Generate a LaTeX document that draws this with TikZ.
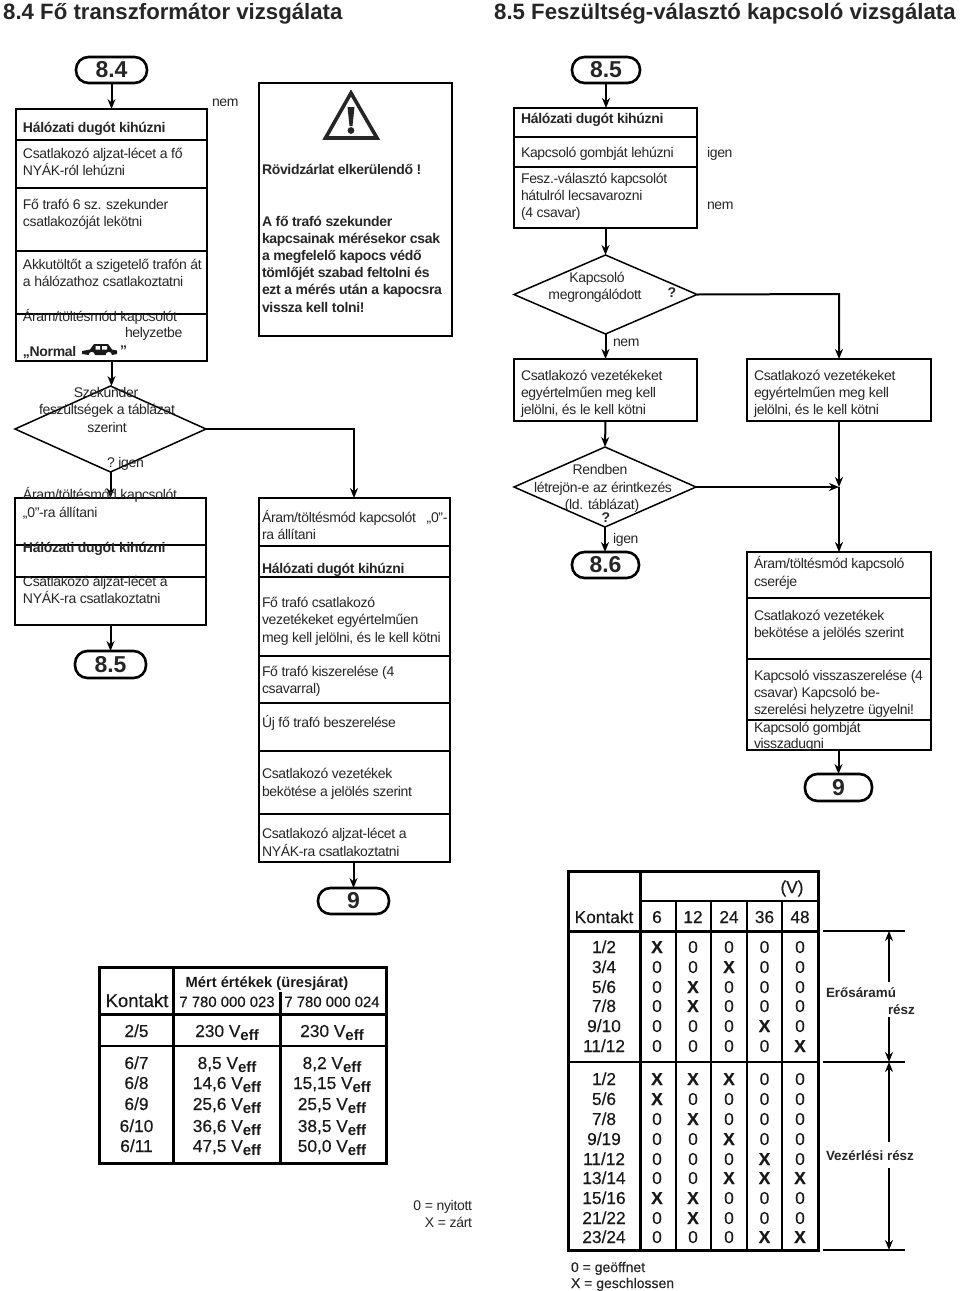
\documentclass[tikz,border=0pt]{standalone}
\usepackage{fontspec}
\setmainfont{Liberation Sans}[LetterSpace=-2.3]
\newfontfamily\plainf{Liberation Sans}
\newfontfamily\scanf{Liberation Sans}[FakeBold=0.35]
\usetikzlibrary{arrows.meta,shapes.geometric,calc}
\tikzset{
  x=1pt,y=-1pt,
  linebox/.style={draw=black,line width=1.6pt,inner sep=0pt,outer sep=0pt},
  pill/.style={draw=black,line width=2.6pt,rounded corners=12.5pt,inner sep=0pt,outer sep=0pt},
  pilltext/.style={inner sep=0pt,outer sep=0pt,text=black!85,font=\plainf\bfseries\fontsize{23}{23}\selectfont},
  diam/.style={diamond,draw=black,line width=1.5pt,inner sep=0pt,outer sep=0pt},
  arr/.style={line width=2pt,-{Stealth[length=10pt,width=8pt]}},
  lbl/.style={inner sep=0pt,outer sep=0pt,anchor=base west,text=black!85,font=\fontsize{14}{17}\selectfont},
  lblb/.style={lbl,font=\bfseries\fontsize{14}{17}\selectfont},
  lblc/.style={lbl,anchor=base},
  title/.style={inner sep=0pt,anchor=base west,font=\plainf\bfseries\fontsize{22.2}{26}\selectfont,text=black!85},
  cell/.style={inner sep=0pt,outer sep=0pt,anchor=base,text=black!90,font=\scanf\fontsize{17.3}{17}\selectfont},
  tline/.style={line width=3pt,line cap=rect},
  tthin/.style={line width=1.5pt},
}
\newcommand\bx[6][linebox]{%
  \pgfmathsetmacro\bw{#5-#3}\pgfmathsetmacro\bh{#6-#4}%
  \pgfmathsetmacro\cx{(#5+#3)/2}\pgfmathsetmacro\cy{(#6+#4)/2}%
  \node[#1,minimum width=\bw pt,minimum height=\bh pt] (#2) at (\cx,\cy) {};}
\newcommand\tx[5][lbl]{\node[#1] (#2) at (#3,#4) {#5};}
\newcommand\XX{\textbf{X}}
\newcommand\veff{V\raisebox{-0.4ex}{\plainf\bfseries\fontsize{15}{15}\selectfont eff}}
\newcommand\trow[7]{%
  \tx[cell]{k#1}{604}{#1}{#2}
  \tx[cell]{a#1}{657}{#1}{#3}
  \tx[cell]{b#1}{693}{#1}{#4}
  \tx[cell]{c#1}{729}{#1}{#5}
  \tx[cell]{d#1}{764.5}{#1}{#6}
  \tx[cell]{e#1}{800}{#1}{#7}}
\newcommand\mrow[4]{%
  \tx[cell]{mk#1}{136.5}{#1}{#2}
  \tx[cell]{ma#1}{227}{#1}{#3}
  \tx[cell]{mb#1}{332}{#1}{#4}}
\begin{document}
\begin{tikzpicture}
\useasboundingbox[fill=white] (0,0) rectangle (960,1291);
% titles
\tx[title]{t1}{3}{19}{8.4 Fő transzformátor vizsgálata}
\tx[title]{t2}{494}{19}{8.5 Feszültség-választó kapcsoló vizsgálata}

% ---- 8.4 left column
\bx[pill]{p84}{76}{57}{147}{83}
\node[pilltext] (p84t) at (p84) {8.4};
\bx{a1}{16}{109}{207}{140}
\bx{a2}{16}{140}{207}{188}
\bx{a3}{16}{188}{207}{251}
\bx{a4}{16}{251}{207}{314}
\bx{a5}{16}{314}{207}{361}
\draw[arr] (p84.south) -- (a1.north);
\tx[lblb]{a1t}{23}{132}{Hálózati dugót kihúzni}
\tx{a2t}{23}{158}{Csatlakozó aljzat-lécet a fő}
\tx{a2u}{23}{175}{NYÁK-ról lehúzni}
\tx{a3t}{23}{209}{Fő trafó 6 sz. szekunder}
\tx{a3u}{23}{226}{csatlakozóját lekötni}
\tx{a4t}{23}{269}{Akkutöltőt a szigetelő trafón át}
\tx{a4u}{23}{286}{a hálózathoz  csatlakoztatni}
\tx{a5t}{23}{321}{Áram/töltésmód kapcsolót}
\tx{a5u}{125}{337}{helyzetbe}
\tx[lblb]{a5v}{23}{356}{„Normal}
\tx[lblb]{a5w}{120}{355}{"}
\fill[black!90] (82,351) -- (90,349.5) -- (94,344) -- (108,344) -- (112,349.5) -- (117,350.5) -- (117,354) -- (112,355) arc[start angle=0,end angle=180,radius=3.2pt] -- (95,355) arc[start angle=0,end angle=180,radius=3.2pt] -- (82,354) -- cycle;
\fill[white] (95.5,346) rectangle (100,349.5) (102,346) rectangle (107,349.5);
\tx{nem1}{212}{106}{nem}

\bx[diam]{d1}{15}{386}{206}{472}
\draw[arr] (a5.south) -- (a5.south |- d1.north);
\tx[lblc]{d1a}{106}{397}{Szekunder}
\tx[lblc]{d1b}{107}{414}{feszültségek a táblázat}
\tx[lblc]{d1c}{107}{432}{szerint}
\tx{d1d}{107}{467}{?~igen}

\bx{c1}{15}{498}{206}{545}
\bx{c2}{15}{545}{206}{577}
\bx{c3}{15}{577}{206}{625}
\draw[arr] (d1.south) -- (c1.north);
\tx{c1t}{23}{499}{Áram/töltésmód kapcsolót}
\tx{c1u}{23}{517}{„0”-ra állítani}
\tx[lblb]{c2t}{23}{552}{Hálózati dugót kihúzni}
\tx{c3t}{23}{586}{Csatlakozó aljzat-lécet a}
\tx{c3u}{23}{603}{NYÁK-ra csatlakoztatni}
\bx[pill]{p85a}{75}{651}{146}{678}
\node[pilltext] (p85at) at (p85a) {8.5};
\draw[arr] (c3.south) -- (p85a.north);

% ---- warning box
\bx[linebox,line width=2.6pt]{w}{259}{83}{452}{336}
\coordinate (wt) at (351,93);
\draw[line width=3.6pt,line join=miter,black!85] (wt) -- (325.5,138) -- (377,138) -- cycle;
\fill[black!85] (347.5,107) -- (354.5,107) -- (352.5,126) -- (349.5,126) -- cycle;
\fill[black!85] (351,130.5) circle[radius=3.4pt];
\tx[lblb]{w1}{262}{174}{Rövidzárlat elkerülendő !}
\tx[lblb]{w2}{262}{226}{A fő trafó szekunder}
\tx[lblb]{w3}{262}{243}{kapcsainak mérésekor csak}
\tx[lblb]{w4}{262}{260}{a megfelelő kapocs védő}
\tx[lblb]{w5}{262}{277}{tömlőjét szabad feltolni és}
\tx[lblb]{w6}{262}{294}{ezt a mérés után a kapocsra}
\tx[lblb]{w7}{262}{312}{vissza kell tolni!}

% ---- right stack of 8.4
\bx{e1}{259}{498}{450}{546}
\bx{e2}{259}{546}{450}{577}
\bx{e3}{259}{577}{450}{656}
\bx{e4}{259}{656}{450}{703}
\bx{e5}{259}{703}{450}{751}
\bx{e6}{259}{751}{450}{814}
\bx{e7}{259}{814}{450}{862}
\coordinate (k1) at (354,429);
\draw[arr] (d1.east) -- (k1) -- (k1 |- e1.north);
\tx{e1t}{262}{522}{Áram/töltésmód kapcsolót\ \ \ „0”-}
\tx{e1u}{262}{539}{ra állítani}
\tx[lblb]{e2t}{262}{573}{Hálózati dugót kihúzni}
\tx{e3t}{262}{607}{Fő trafó csatlakozó}
\tx{e3u}{262}{624}{vezetékeket egyértelműen}
\tx{e3v}{262}{642}{meg kell jelölni, és le kell kötni}
\tx{e4t}{262}{676}{Fő trafó kiszerelése (4}
\tx{e4u}{262}{693}{csavarral)}
\tx{e5t}{262}{727}{Új fő trafó beszerelése}
\tx{e6t}{262}{778}{Csatlakozó vezetékek}
\tx{e6u}{262}{796}{bekötése a jelölés szerint}
\tx{e7t}{262}{838}{Csatlakozó aljzat-lécet a}
\tx{e7u}{262}{856}{NYÁK-ra csatlakoztatni}
\bx[pill]{p9a}{318}{888}{389}{914}
\node[pilltext] (p9at) at (p9a) {9};
\draw[arr] (e7.south -| p9a.north) -- (p9a.north);

% ---- 8.5 column
\bx[pill]{p85}{572}{57}{640}{83}
\node[pilltext] (p85t) at (p85) {8.5};
\bx{f1}{514}{108}{697}{137}
\bx{f2}{514}{137}{697}{167}
\bx{f3}{514}{167}{697}{228}
\draw[arr] (p85.south) -- (p85.south |- f1.north);
\tx[lblb]{f1t}{521}{123}{Hálózati dugót kihúzni}
\tx{f2t}{521}{157}{Kapcsoló gombját lehúzni}
\tx{f3t}{521}{183}{Fesz.-választó kapcsolót}
\tx{f3u}{521}{200}{hátulról lecsavarozni}
\tx{f3v}{521}{217}{(4 csavar)}
\tx{ig1}{707}{157}{igen}
\tx{nem2}{707}{209}{nem}

\bx[diam]{d2}{514}{255}{697}{334}
\draw[arr] (f3.south) -- (d2.north);
\tx[lblc]{d2a}{597}{282}{Kapcsoló}
\tx[lblc]{d2b}{595}{299}{megrongálódott}
\tx[lblb,anchor=base]{d2q}{672}{297}{?}
\tx{nem3}{613}{346}{nem}

\bx{g1}{514}{359}{697}{421}
\bx{g2}{747}{359}{931}{421}
\draw[arr] (d2.south) -- (g1.north);
\coordinate (k2) at (839,294);
\draw[arr] (d2.east) -- (k2) -- (k2 |- g2.north);
\tx{g1a}{521}{380}{Csatlakozó vezetékeket}
\tx{g1b}{521}{397}{egyértelműen meg kell}
\tx{g1c}{521}{414}{jelölni, és le kell kötni}
\tx{g2a}{754}{380}{Csatlakozó vezetékeket}
\tx{g2b}{754}{397}{egyértelműen meg kell}
\tx{g2c}{754}{414}{jelölni, és le kell kötni}

\bx[diam]{d3}{514}{447}{696}{527}
\draw[arr] (g1.south) -- (d3.north);
\tx[lblc]{d3a}{600}{474}{Rendben}
\tx[lblc]{d3b}{603}{492}{létrejön-e az érintkezés}
\tx[lblc]{d3c}{602}{509}{(ld. táblázat)}
\tx[lblb,anchor=base]{d3q}{606}{522}{?}
\tx{ig2}{613}{543}{igen}
\bx[pill]{p86}{572}{552}{639}{578}
\node[pilltext] (p86t) at (p86) {8.6};
\draw[arr] (d3.south) -- (d3.south |- p86.north);

\bx{h1}{747}{552}{931}{598}
\bx{h2}{747}{598}{931}{659}
\bx{h3}{747}{659}{931}{720}
\bx{h4}{747}{720}{931}{750}
\coordinate (k3) at (839,487);
\draw[arr] (g2.south) -- (k3);
\draw[arr] (d3.east) -- (k3);
\draw[arr] (k3) -- (h1.north);
\tx{h1a}{754}{568}{Áram/töltésmód kapcsoló}
\tx{h1b}{754}{586}{cseréje}
\tx{h2a}{754}{620}{Csatlakozó vezetékek}
\tx{h2b}{754}{637}{bekötése a jelölés szerint}
\tx{h3a}{754}{680}{Kapcsoló visszaszerelése (4}
\tx{h3b}{754}{697}{csavar) Kapcsoló be-}
\tx{h3c}{754}{714}{szerelési helyzetre ügyelni!}
\tx{h4a}{754}{732}{Kapcsoló gombját}
\tx{h4b}{754}{748}{visszadugni}
\bx[pill]{p9b}{805}{774}{872}{801}
\node[pilltext] (p9bt) at (p9b) {9};
\draw[arr] (h4.south -| p9b.north) -- (p9b.north);

% ---- measured values table
\draw[tline] (99,967) rectangle (386,1163);
\draw[tline] (173,967) -- (173,1163);
\draw[tline] (280,993) -- (280,1163);
\draw[tline] (99,1014) -- (386,1014);
\draw[tthin] (99,1046) -- (386,1046);
\tx[cell,font=\plainf\bfseries\fontsize{14.7}{15}\selectfont]{m0}{267}{987}{Mért értékek (üresjárat)}
\tx[cell,font=\scanf\fontsize{18.5}{18}\selectfont]{m1}{137}{1007}{Kontakt}
\tx[cell,font=\scanf\fontsize{14.9}{15}\selectfont]{m2}{227}{1007}{7 780 000 023}
\tx[cell,font=\scanf\fontsize{14.9}{15}\selectfont]{m3}{332}{1007}{7 780 000 024}
\mrow{1037}{2/5}{230 \veff}{230 \veff}
\mrow{1069}{6/7}{8,5 \veff}{8,2 \veff}
\mrow{1089}{6/8}{14,6 \veff}{15,15 \veff}
\mrow{1110}{6/9}{25,6 \veff}{25,5 \veff}
\mrow{1132}{6/10}{36,6 \veff}{38,5 \veff}
\mrow{1152}{6/11}{47,5 \veff}{50,0 \veff}
\tx[lbl,anchor=base east]{z1}{472}{1210}{0 = nyitott}
\tx[lbl,anchor=base east]{z2}{472}{1227}{X = zárt}

% ---- contact table
\draw[tline] (568,871) rectangle (818,1250);
\draw[tline] (640,871) -- (640,1250);
\draw[tline] (568,931) -- (818,931);
\draw[tthin] (640,901) -- (818,901);
\draw[tthin] (568,1062) -- (818,1062);
\draw[tthin] (676,901) -- (676,1250);
\draw[tthin] (711,901) -- (711,1250);
\draw[tthin] (747,901) -- (747,1250);
\draw[tthin] (782,901) -- (782,1250);
\tx[cell]{vv}{792}{893}{(V)}
\trow{923}{Kontakt}{6}{12}{24}{36}{48}
\trow{953}{1/2}{\XX}{0}{0}{0}{0}
\trow{973}{3/4}{0}{0}{\XX}{0}{0}
\trow{993}{5/6}{0}{\XX}{0}{0}{0}
\trow{1012}{7/8}{0}{\XX}{0}{0}{0}
\trow{1032}{9/10}{0}{0}{0}{\XX}{0}
\trow{1052}{11/12}{0}{0}{0}{0}{\XX}
\trow{1085}{1/2}{\XX}{\XX}{\XX}{0}{0}
\trow{1105}{5/6}{\XX}{0}{0}{0}{0}
\trow{1125}{7/8}{0}{\XX}{0}{0}{0}
\trow{1145}{9/19}{0}{0}{\XX}{0}{0}
\trow{1165}{11/12}{0}{0}{0}{\XX}{0}
\trow{1184}{13/14}{0}{0}{\XX}{\XX}{\XX}
\trow{1204}{15/16}{\XX}{\XX}{0}{0}{0}
\trow{1224}{21/22}{0}{\XX}{0}{0}{0}
\trow{1243}{23/24}{0}{0}{0}{\XX}{\XX}
\tx[lbl,font=\scanf\fontsize{14}{16}\selectfont]{g0}{571}{1272}{0 = geöffnet}
\tx[lbl,font=\scanf\fontsize{14}{16}\selectfont]{gx}{571}{1288}{X = geschlossen}

% ---- dimension marks
\draw[tthin] (823,931) -- (905,931);
\draw[tthin] (823,1062) -- (905,1062);
\draw[tthin] (823,1250) -- (905,1250);
\coordinate (v1) at (889,931);
\coordinate (v2) at (889,982);
\coordinate (v3) at (889,1017);
\coordinate (v4) at (889,1062);
\coordinate (v5) at (889,1142);
\coordinate (v6) at (889,1168);
\coordinate (v7) at (889,1250);
\draw[arr,line width=1.5pt] (v2) -- (v1);
\draw[arr,line width=1.5pt] (v3) -- (v4);
\draw[arr,line width=1.5pt] (v5) -- (v4);
\draw[arr,line width=1.5pt] (v6) -- (v7);
\tx[lblb,font=\plainf\bfseries\fontsize{13.4}{15}\selectfont]{r1}{826}{997}{Erősáramú}
\tx[lblb,font=\plainf\bfseries\fontsize{13.4}{15}\selectfont]{r2}{888}{1014}{rész}
\tx[lblb,font=\plainf\bfseries\fontsize{13.4}{15}\selectfont]{r3}{826}{1160}{Vezérlési rész}
\end{tikzpicture}
\end{document}
